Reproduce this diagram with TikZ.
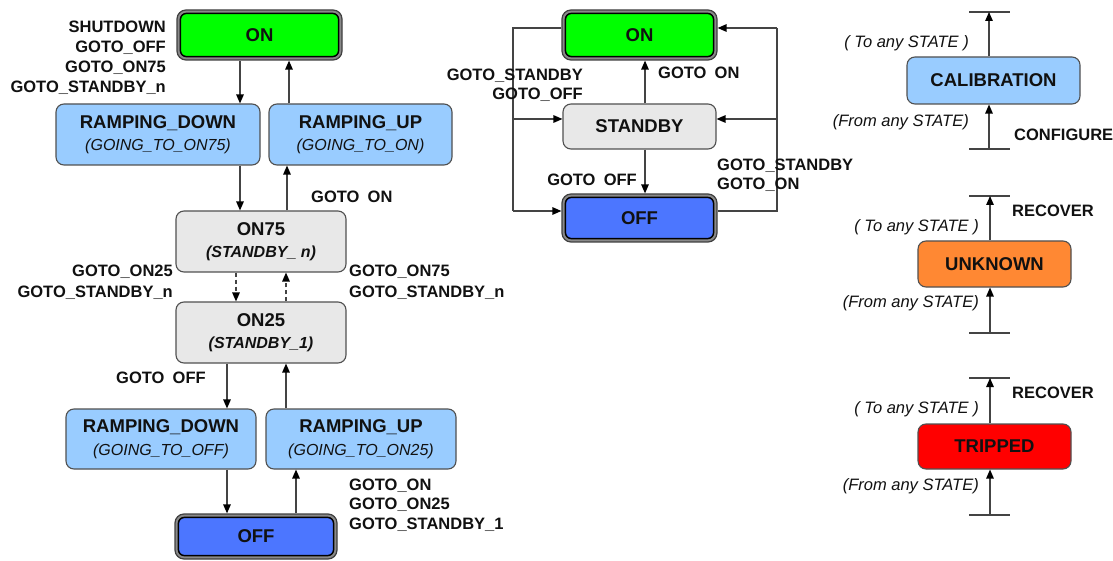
\documentclass[tikz,border=0pt]{standalone}
\usepackage{fontspec}
\setmainfont{Liberation Sans}
\usetikzlibrary{arrows.meta}

\definecolor{onGreen}{HTML}{00FF00}
\definecolor{offBlue}{HTML}{4C76FF}
\definecolor{rampBlue}{HTML}{99CCFF}
\definecolor{stateGray}{HTML}{E8E8E8}
\definecolor{unkOrange}{HTML}{FF8833}
\definecolor{tripRed}{HTML}{FF0000}
\definecolor{boxEdge}{HTML}{505050}
\definecolor{frameDark}{HTML}{404040}
\definecolor{frameBand}{HTML}{8A8A8A}
\definecolor{lineGray}{HTML}{444444}
\definecolor{inkBlack}{HTML}{111111}

\newcommand\stTitle{\fontsize{18.5}{22.5}\selectfont\bfseries}
\newcommand\stSub{\fontsize{16}{22.5}\selectfont\mdseries\itshape}
\newcommand\stSubB{\fontsize{16}{22.5}\selectfont\bfseries\itshape}
\newcommand\stLbl{\fontsize{16.5}{20}\selectfont\bfseries}
\newcommand\stNote{\fontsize{16.5}{20}\selectfont\itshape}

\tikzset{
  every node/.style={inner sep=0pt, text=inkBlack},
  box/.style={draw=boxEdge, line width=1.1pt, rounded corners=8pt, fill=#1,
    font=\stTitle, align=center},
  dframe/.style={draw=frameDark, line width=1.2pt, fill=frameBand,
    rounded corners=9pt, font=\stTitle,
    path picture={\draw[line width=1.5pt, draw=black, fill=#1, rounded corners=6pt]
      ([shift={(3.4,3.4)}]path picture bounding box.north west) rectangle
      ([shift={(-3.4,-3.4)}]path picture bounding box.south east);}},
  lbl/.style={font=\stLbl},
  note/.style={font=\stNote},
  conn/.style={draw=lineGray, line width=1.3pt},
  arr/.style={conn, -{Triangle[length=9pt,width=7.5pt,color=black]}},
  dasharr/.style={arr, dash pattern=on 4pt off 3pt},
  endbar/.style={draw=lineGray, line width=1.5pt},
}

\begin{document}
\begin{tikzpicture}[x=1pt,y=-1pt]
\fill[white] (0,0) rectangle (1113,561);
\useasboundingbox (0,0) rectangle (1113,561);

% ---------- high-voltage channel: ON / ON75 / ON25 / OFF ----------
\node[dframe=onGreen, minimum width=165, minimum height=50] (onL) at (259.5,35) {ON};
\node[box=rampBlue, minimum width=204, minimum height=61] (rdTop) at (158,134.5)
  {RAMPING\_DOWN\\\stSub (GOING\_TO\_ON75)};
\node[box=rampBlue, minimum width=183, minimum height=61] (ruTop) at (360.5,134.5)
  {RAMPING\_UP\\\stSub (GOING\_TO\_ON)};
\node[box=stateGray, minimum width=170, minimum height=61] (on75) at (261,241.5)
  {ON75\\\stSubB (STANDBY\_ n)};
\node[box=stateGray, minimum width=170, minimum height=61] (on25) at (261,332.5)
  {ON25\\\stSubB (STANDBY\_1)};
\node[box=rampBlue, minimum width=190, minimum height=60] (rdBot) at (161,439)
  {RAMPING\_DOWN\\\stSub (GOING\_TO\_OFF)};
\node[box=rampBlue, minimum width=190, minimum height=60] (ruBot) at (361,439)
  {RAMPING\_UP\\\stSub (GOING\_TO\_ON25)};
\node[dframe=offBlue, minimum width=162, minimum height=45] (offL) at (256,536.5) {OFF};

\coordinate (xA) at (240,0);
\coordinate (xB) at (289,0);
\coordinate (xC) at (287,0);
\coordinate (xD) at (236,0);
\coordinate (xE) at (286,0);
\coordinate (xF) at (227,0);
\coordinate (xG) at (296,0);

\draw[arr] (onL.south -| xA) -- (rdTop.north -| xA);
\draw[arr] (ruTop.north -| xB) -- (onL.south -| xB);
\draw[arr] (rdTop.south -| xA) -- (on75.north -| xA);
\draw[arr] (on75.north -| xC) -- (ruTop.south -| xC);
\draw[dasharr] (on75.south -| xD) -- (on25.north -| xD);
\draw[dasharr] (on25.north -| xE) -- (on75.south -| xE);
\draw[arr] (on25.south -| xF) -- (rdBot.north -| xF);
\draw[arr] (ruBot.north -| xE) -- (on25.south -| xE);
\draw[arr] (rdBot.south -| xF) -- (offL.north -| xF);
\draw[arr] (offL.north -| xG) -- (ruBot.south -| xG);

\node[lbl, anchor=east, align=right] (lbDownOn) at (166,58)
  {SHUTDOWN\\GOTO\_OFF\\GOTO\_ON75\\GOTO\_STANDBY\_n};
\node[lbl, anchor=west] (lbUpOn) at (311,197) {GOTO\hspace{0.5em}ON};
\node[lbl, anchor=east, align=right] (lbTo25) at (173,282.5)
  {GOTO\_ON25\\[1pt]GOTO\_STANDBY\_n};
\node[lbl, anchor=west, align=left] (lbTo75) at (349,282.5)
  {GOTO\_ON75\\[1pt]GOTO\_STANDBY\_n};
\node[lbl, anchor=west] (lbToOff) at (116,378) {GOTO\hspace{0.5em}OFF};
\node[lbl, anchor=west, align=left] (lbFromOff) at (349,505)
  {GOTO\_ON\\[-0.5pt]GOTO\_ON25\\[-0.5pt]GOTO\_STANDBY\_1};

% ---------- simple channel: ON / STANDBY / OFF ----------
\node[dframe=onGreen, minimum width=155, minimum height=50] (onM) at (639.5,35) {ON};
\node[box=stateGray, minimum width=153, minimum height=45] (sby) at (639.5,126.5) {STANDBY};
\node[dframe=offBlue, minimum width=155, minimum height=48] (offM) at (639.5,218) {OFF};

\coordinate (lTop) at (513,28);
\coordinate (lMid) at (513,119);
\coordinate (lBot) at (513,211);
\coordinate (rTop) at (777,28);
\coordinate (rMid) at (777,119);
\coordinate (rBot) at (777,211);
\coordinate (xM) at (645,0);

\draw[conn] (onM.west |- lTop) -- (lTop) -- (lBot);
\draw[arr] (lMid) -- (sby.west |- lMid);
\draw[arr] (lBot) -- (offM.west |- lBot);
\draw[conn] (offM.east |- rBot) -- (rBot) -- (rTop);
\draw[arr] (rTop) -- (onM.east |- rTop);
\draw[arr] (rMid) -- (sby.east |- rMid);
\draw[arr] (sby.north -| xM) -- (onM.south -| xM);
\draw[arr] (sby.south -| xM) -- (offM.north -| xM);

\node[lbl, anchor=east, align=right] (lbSbyOff) at (583,85)
  {GOTO\_STANDBY\\[-1.5pt]GOTO\_OFF};
\node[lbl, anchor=west] (lbSbyOn) at (658,73) {GOTO\hspace{0.5em}ON};
\node[lbl, anchor=east] (lbSbyDown) at (637,180) {GOTO\hspace{0.5em}OFF};
\node[lbl, anchor=west, align=left] (lbOffUp) at (717,175.5)
  {GOTO\_STANDBY\\[-1pt]GOTO\_ON};

% ---------- global states ----------
\node[box=rampBlue, minimum width=173, minimum height=47] (cal) at (993.5,80.5) {CALIBRATION};
\coordinate (calTop) at (989,12);
\coordinate (calBot) at (989,149);
\draw[endbar] ([xshift=-20pt]calTop) -- ([xshift=21pt]calTop);
\draw[endbar] ([xshift=-20pt]calBot) -- ([xshift=21pt]calBot);
\draw[arr] (cal.north -| calTop) -- (calTop);
\draw[arr] (calBot) -- (cal.south -| calBot);
\node[note, anchor=east] (calTo) at (969,43) {( To any STATE )};
\node[note, anchor=east] (calFrom) at (969,122) {(From any STATE)};
\node[lbl, anchor=west] (calCfg) at (1014,135) {CONFIGURE};

\node[box=unkOrange, minimum width=153, minimum height=46] (unk) at (994.5,264) {UNKNOWN};
\coordinate (unkTop) at (990,196);
\coordinate (unkBot) at (990,333);
\draw[endbar] ([xshift=-21pt]unkTop) -- ([xshift=20pt]unkTop);
\draw[endbar] ([xshift=-21pt]unkBot) -- ([xshift=20pt]unkBot);
\draw[arr] (unk.north -| unkTop) -- (unkTop);
\draw[arr] (unkBot) -- (unk.south -| unkBot);
\node[lbl, anchor=west] (unkRec) at (1012,211) {RECOVER};
\node[note, anchor=east] (unkTo) at (979,227) {( To any STATE )};
\node[note, anchor=east] (unkFrom) at (979,303) {(From any STATE)};

\node[box=tripRed, minimum width=153, minimum height=45] (trip) at (994.5,446.5) {TRIPPED};
\coordinate (tripTop) at (990,378);
\coordinate (tripBot) at (990,515);
\draw[endbar] ([xshift=-21pt]tripTop) -- ([xshift=20pt]tripTop);
\draw[endbar] ([xshift=-21pt]tripBot) -- ([xshift=20pt]tripBot);
\draw[arr] (trip.north -| tripTop) -- (tripTop);
\draw[arr] (tripBot) -- (trip.south -| tripBot);
\node[lbl, anchor=west] (tripRec) at (1012,393) {RECOVER};
\node[note, anchor=east] (tripTo) at (979,409) {( To any STATE )};
\node[note, anchor=east] (tripFrom) at (979,486) {(From any STATE)};
\end{tikzpicture}
\end{document}
